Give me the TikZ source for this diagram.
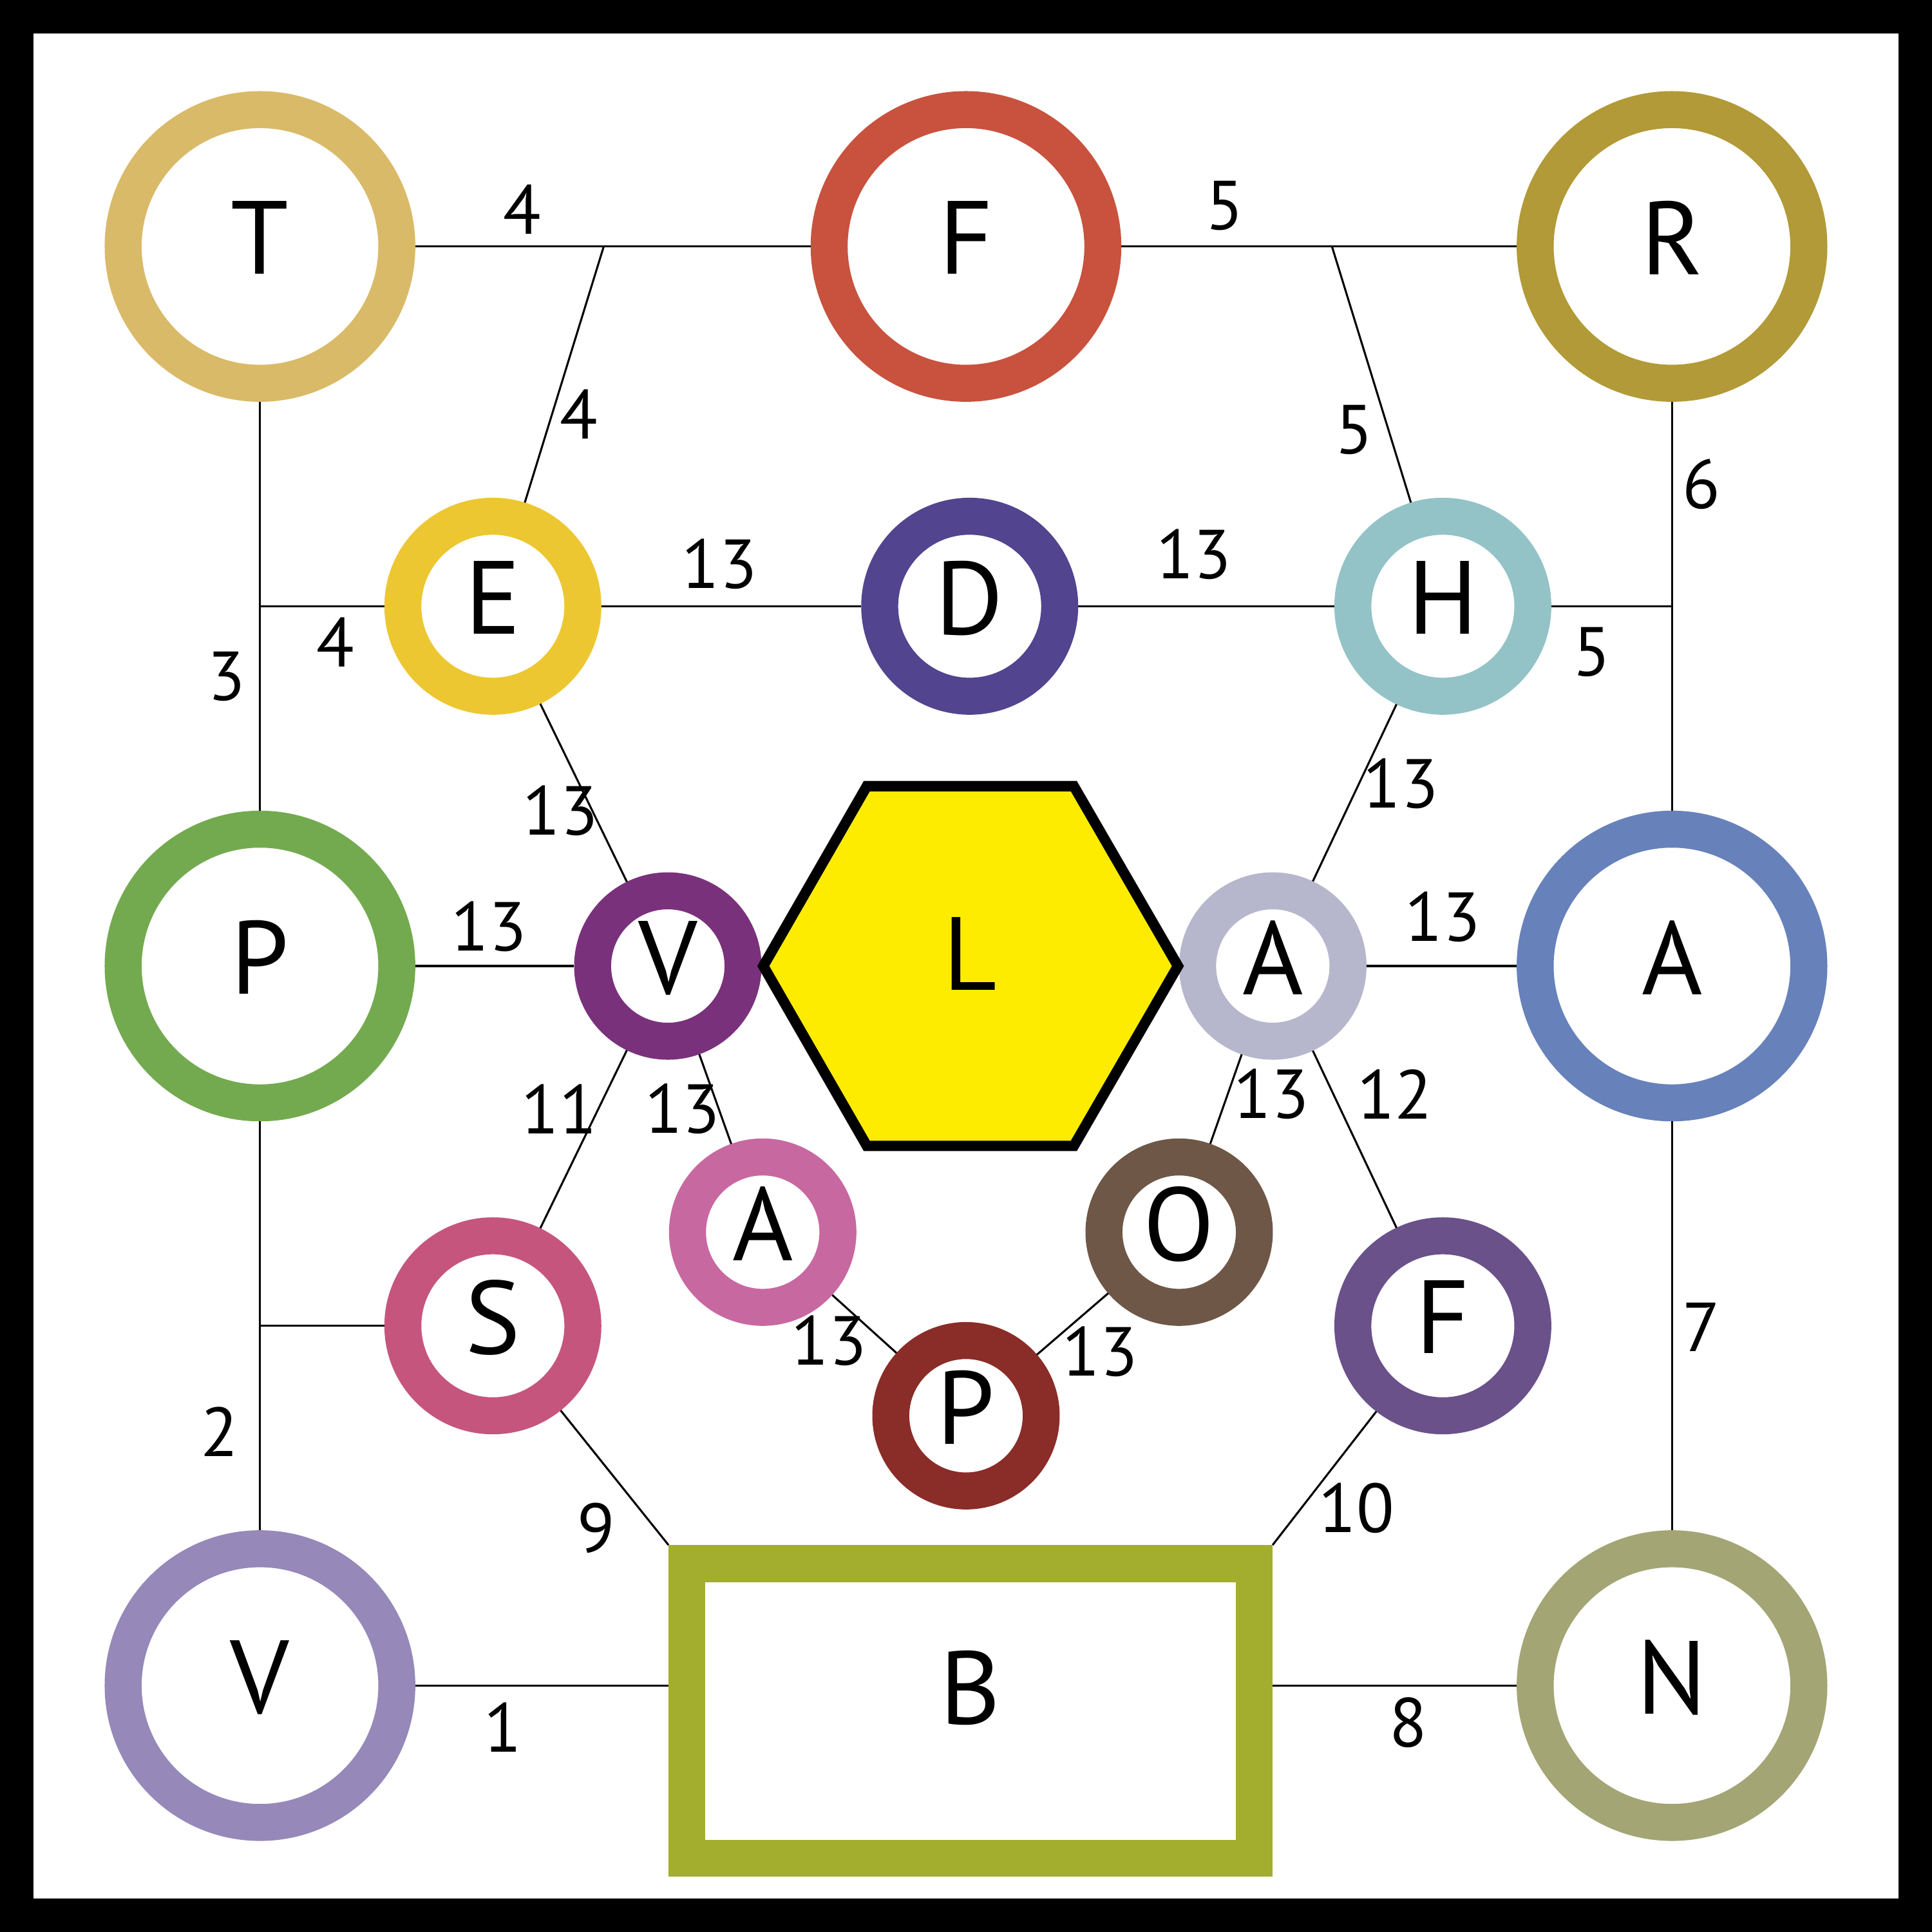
\documentclass[tikz,border=0pt]{standalone}
\usepackage{fontspec}
\setmainfont{PT Sans}
\definecolor{cT}{HTML}{D9BA68}
\definecolor{cFt}{HTML}{C8523E}
\definecolor{cR}{HTML}{B19A37}
\definecolor{cE}{HTML}{EDC731}
\definecolor{cD}{HTML}{52448F}
\definecolor{cH}{HTML}{93C3C6}
\definecolor{cPl}{HTML}{73AA4F}
\definecolor{cVs}{HTML}{7A317C}
\definecolor{cAs}{HTML}{B6B6CC}
\definecolor{cAb}{HTML}{6781BA}
\definecolor{cAp}{HTML}{C868A0}
\definecolor{cO}{HTML}{6E5747}
\definecolor{cS}{HTML}{C6557E}
\definecolor{cFr}{HTML}{6A518A}
\definecolor{cPb}{HTML}{8A2C28}
\definecolor{cVb}{HTML}{9688B9}
\definecolor{cN}{HTML}{A4A575}
\definecolor{cB}{HTML}{A3AE2E}
\definecolor{cL}{HTML}{FDEC00}
\begin{document}
\begin{tikzpicture}[x=0.01cm,y=-0.01cm,
  ring/.style={circle,draw=#1,line width=0.3cm,fill=white,inner sep=0pt,
    font=\fontsize{24}{24}\selectfont,text depth=1.4mm},
  bigring/.style={ring=#1,minimum size=2.22cm},
  medring/.style={ring=#1,minimum size=1.46cm},
  smallring/.style={ring=#1,minimum size=1.22cm},
  edge/.style={line width=0.46pt,black},
  lab/.style={inner sep=0pt,font=\fontsize{16}{16}\selectfont}]
\useasboundingbox (0,0) rectangle (1568,1568);
\fill[black] (0,0) rectangle (1568,1568);
\fill[white] (27,27) rectangle (1541,1541);
% nodes
\node[bigring=cT] (T) at (211,200) {T};
\node[bigring=cFt] (Ft) at (784,200) {F};
\node[bigring=cR] (R) at (1357,200) {R};
\node[medring=cE] (E) at (400,492) {E};
\node[medring=cD] (D) at (787,492) {D};
\node[medring=cH] (H) at (1171,492) {H};
\node[bigring=cPl] (Pl) at (211,784) {P};
\node[smallring=cVs] (Vs) at (542,784) {V};
\node[smallring=cAs] (As) at (1033,784) {A};
\node[bigring=cAb] (Ab) at (1357,784) {A};
\node[smallring=cAp] (Ap) at (619,1000) {A};
\node[smallring=cO] (O) at (957,1000) {O};
\node[medring=cS] (S) at (400,1076) {S};
\node[medring=cFr] (Fr) at (1171,1076) {F};
\node[smallring=cPb] (Pb) at (784,1149) {P};
\node[bigring=cVb] (Vb) at (211,1368) {V};
\node[bigring=cN] (N) at (1357,1368) {N};
\node[rectangle,draw=cB,line width=0.3cm,fill=white,minimum width=4.6cm,minimum height=2.39cm,
  inner sep=0pt,font=\fontsize{24}{24}\selectfont,text depth=3.8mm] (B) at (787.7,1388.5) {B};
% hexagon
\draw[line width=2.4pt,fill=cL,line join=miter] (619.5,784) -- (703.5,638) -- (871.5,638) -- (956,784) -- (871.5,930) -- (703.5,930) -- cycle;
\node[inner sep=0pt,font=\fontsize{24}{24}\selectfont,text depth=2mm] (L) at (787.5,784) {L};
% junctions
\coordinate (j1) at (490,200);
\coordinate (j2) at (1081,200);
\coordinate (j3) at (1357,492);
\coordinate (j4) at (211,492);
\coordinate (j5) at (211,1076);
% edges
\draw[edge] (T) -- (Ft);
\draw[edge] (j1) -- (E);
\draw[edge] (Ft) -- (R);
\draw[edge] (j2) -- (H);
\draw[edge] (R) -- (Ab);
\draw[edge] (j3) -- (H);
\draw[edge] (T) -- (Pl);
\draw[edge] (j4) -- (E);
\draw[edge] (E) -- (D);
\draw[edge] (D) -- (H);
\draw[edge] (E) -- (Vs);
\draw[edge] (H) -- (As);
\draw[edge] (Pl) -- (Vs);
\draw[edge] (As) -- (Ab);
\draw[edge] (Vs) -- (S);
\draw[edge] (Vs) -- (Ap);
\draw[edge] (As) -- (O);
\draw[edge] (As) -- (Fr);
\draw[edge] (Ap) -- (Pb);
\draw[edge] (O) -- (Pb);
\draw[edge] (S) -- (B.north west);
\draw[edge] (Fr) -- (B.north east);
\draw[edge] (Pl) -- (Vb);
\draw[edge] (j5) -- (S);
\draw[edge] (Vb) -- (Vb -| B.west);
\draw[edge] (B.east |- N) -- (N);
\draw[edge] (Ab) -- (N);
% labels
\node[lab] (l1) at (424,170) {4};
\node[lab] (l2) at (470,336) {4};
\node[lab] (l3) at (994,167) {5};
\node[lab] (l4) at (1099,349) {5};
\node[lab] (l5) at (1381,393) {6};
\node[lab] (l6) at (1292,529) {5};
\node[lab] (l7) at (184,549) {3};
\node[lab] (l8) at (272,521) {4};
\node[lab] (l9) at (584,458) {13};
\node[lab] (l10) at (969,450) {13};
\node[lab] (l11) at (455,658) {13};
\node[lab] (l12) at (1137,636) {13};
\node[lab] (l13) at (397,752) {13};
\node[lab] (l14) at (1171,744) {13};
\node[lab] (l15) at (454,900) {11};
\node[lab] (l16) at (554,900) {13};
\node[lab] (l17) at (1032,888) {13};
\node[lab] (l18) at (1132,888) {12};
\node[lab] (l19) at (673,1088) {13};
\node[lab] (l20) at (893,1097) {13};
\node[lab] (l21) at (484,1240) {9};
\node[lab] (l22) at (1101,1224) {10};
\node[lab] (l23) at (178,1162) {2};
\node[lab] (l24) at (408,1402) {1};
\node[lab] (l25) at (1143,1398) {8};
\node[lab] (l26) at (1381,1077) {7};
\end{tikzpicture}
\end{document}
